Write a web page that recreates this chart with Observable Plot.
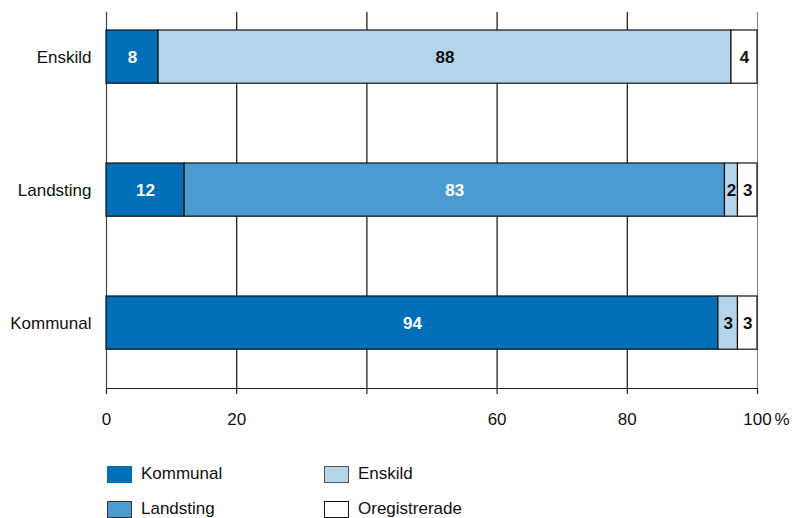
<!DOCTYPE html>
<html>
<head>
<meta charset="utf-8">
<script src="https://cdn.jsdelivr.net/npm/d3@7"></script>
<script src="https://cdn.jsdelivr.net/npm/@observablehq/plot@0.6"></script>
<style>
  body { margin: 0; background: #fff; font-family: "Liberation Sans", Arial, sans-serif; }
  #chart { position: relative; width: 792px; height: 518px; }
  .legend { position: absolute; left: 107px; top: 465px; display: grid; grid-template-columns: 217px 217px; row-gap: 17px; }
  .item { display: flex; align-items: center; height: 18px; font-size: 17px; color: #111; }
  .sw { width: 25px; height: 17px; box-sizing: border-box; margin-right: 9px; }
</style>
</head>
<body>
<div id="chart"></div>
<script>
const categories = ["Enskild", "Landsting", "Kommunal"];
const types = ["Kommunal", "Landsting", "Enskild", "Oregistrerade"];
const colors = ["#006fb8", "#4c9bd0", "#b4d4ea", "#ffffff"];
const swatchBorders = ["#006fb8", "#333333", "#555555", "#111111"];
const labelColors = ["#ffffff", "#ffffff", "#111111", "#111111"];
// values per category, in order of types
const valEnskild = [8, 0, 88, 4];
const valLandsting = [12, 83, 2, 3];
const valKommunal = [94, 0, 3, 3];
const xTicks = [0, 20, 40, 60, 80, 100];
const xTickLabels = ["0", "20", "", "60", "80", "100"];
const unitLabel = "%";

const seriesByCat = {Enskild: valEnskild, Landsting: valLandsting, Kommunal: valKommunal};
const table = [];
for (const c of categories) {
  seriesByCat[c].forEach((v, i) => { if (v > 0) table.push({cat: c, type: types[i], value: v, idx: i}); });
}

const tickSize = 6, tickPad = 18;
const plot = Plot.plot({
  width: 792,
  height: 440,
  marginLeft: 106,
  marginRight: 35,
  marginTop: 12,
  marginBottom: 52,
  style: {fontFamily: "'Liberation Sans', Arial, sans-serif", fontSize: "17px", color: "#111", background: "#fff"},
  x: {domain: [0, 100], label: null},
  y: {domain: categories, range: [3.4, 375.8], paddingInner: 0.6, paddingOuter: 0.2, round: false, label: null},
  color: {domain: types, range: colors},
  marks: [
    Plot.ruleX(xTicks, {x: d => d, stroke: d => d === 100 ? "#888" : (d === 0 ? "#444" : "#111"), strokeWidth: 1.2}),
    Plot.frame({anchor: "bottom", stroke: "#222", strokeWidth: 1.2}),
    Plot.axisX({ticks: xTicks, tickSize: tickSize, tickPadding: tickPad, stroke: "#222", strokeWidth: 1.2, label: null,
      tickFormat: d => xTickLabels[xTicks.indexOf(d)], fontSize: 17, fill: "#111"}),
    Plot.text([unitLabel], {x: () => 100, text: d => d, frameAnchor: "bottom", dy: tickSize + tickPad, lineAnchor: "top",
      dx: 17, textAnchor: "start", fontSize: 17, fill: "#111"}),
    Plot.axisY({tickSize: 0, tickPadding: 15, fontSize: 17, fill: "#111", label: null}),
    Plot.barX(table, {x: "value", y: "cat", fill: "type", stroke: "#111", strokeWidth: 1.2}),
    Plot.text(table, Plot.stackX({x: "value", y: "cat", text: d => String(d.value),
      fill: d => labelColors[d.idx], fontWeight: "bold", fontSize: 17}))
  ]
});
const chart = document.getElementById("chart");
chart.appendChild(plot);

const legend = document.createElement("div");
legend.className = "legend";
const order = [0, 2, 1, 3];
for (const i of order) {
  const item = document.createElement("div");
  item.className = "item";
  const sw = document.createElement("div");
  sw.className = "sw";
  sw.style.background = colors[i];
  sw.style.border = "1.5px solid " + swatchBorders[i];
  const lab = document.createElement("span");
  lab.textContent = types[i];
  item.appendChild(sw);
  item.appendChild(lab);
  legend.appendChild(item);
}
chart.appendChild(legend);
</script>
</body>
</html>
